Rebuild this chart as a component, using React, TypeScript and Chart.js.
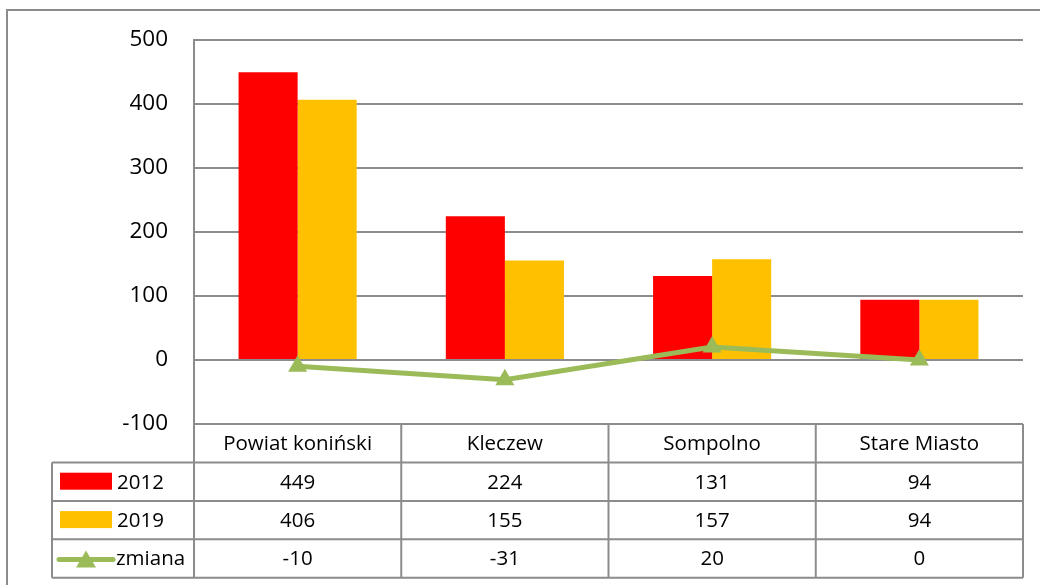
import React, { useEffect, useRef } from "react";
import { Chart, registerables } from "chart.js";

Chart.register(...registerables);

const CATEGORIES = ["Powiat koniński", "Kleczew", "Sompolno", "Stare Miasto"];
const VALUES_2012 = [449, 224, 131, 94];
const VALUES_2019 = [406, 155, 157, 94];
const VALUES_CHANGE = [-10, -31, 20, 0];
const SERIES_LABELS = ["2012", "2019", "zmiana"];

const RED = "#FF0000";
const YELLOW = "#FFC000";
const GREEN = "#9BBB59";
const GRID = "#8c8c8c";
const FONT = "'Open Sans', sans-serif";

const tablePlugin = {
  id: "dataTable",
  afterDraw(chart: any) {
    const { ctx, chartArea: ca } = chart;
    const n = CATEGORIES.length;
    const colW = (ca.right - ca.left) / n;
    const top = ca.bottom;
    const headerH = 38.5;
    const rowH = 38.4;
    const legendLeft = 52;
    const rowsTop = top + headerH;
    const bottom = rowsTop + rowH * 3;

    ctx.save();
    // outer border
    ctx.strokeStyle = GRID;
    ctx.lineWidth = 2;
    ctx.beginPath();
    ctx.moveTo(7, 585);
    ctx.lineTo(7, 10);
    ctx.lineTo(1040, 10);
    ctx.stroke();

    ctx.lineWidth = 2;
    ctx.strokeStyle = GRID;
    ctx.beginPath();
    ctx.moveTo(ca.left, top);
    ctx.lineTo(ca.right, top);
    for (let r = 0; r <= 3; r++) {
      const y = rowsTop + r * rowH;
      ctx.moveTo(legendLeft, y);
      ctx.lineTo(ca.right, y);
    }
    for (let c = 0; c <= n; c++) {
      const x = ca.left + c * colW;
      ctx.moveTo(x, top);
      ctx.lineTo(x, bottom);
    }
    ctx.moveTo(legendLeft, rowsTop);
    ctx.lineTo(legendLeft, bottom);
    ctx.stroke();

    ctx.fillStyle = "#000";
    ctx.font = `20.5px ${FONT}`;
    ctx.textAlign = "center";
    ctx.textBaseline = "middle";
    CATEGORIES.forEach((cat, i) => {
      ctx.fillText(cat, ca.left + (i + 0.5) * colW, top + headerH / 2 + 1);
    });
    const rows = [VALUES_2012, VALUES_2019, VALUES_CHANGE];
    rows.forEach((vals, r) => {
      const y = rowsTop + (r + 0.5) * rowH + 1;
      vals.forEach((v, i) => {
        ctx.fillText(String(v), ca.left + (i + 0.5) * colW, y);
      });
    });

    ctx.textAlign = "left";
    const keyL = 60;
    const keyR = 112;
    const y0 = rowsTop + 0.5 * rowH;
    const y1 = rowsTop + 1.5 * rowH;
    const y2 = rowsTop + 2.5 * rowH;
    ctx.fillStyle = RED;
    ctx.fillRect(keyL, y0 - 9, keyR - keyL, 17);
    ctx.fillStyle = YELLOW;
    ctx.fillRect(keyL, y1 - 9, keyR - keyL, 17);
    ctx.strokeStyle = GREEN;
    ctx.lineWidth = 5;
    ctx.lineCap = "round";
    ctx.beginPath();
    ctx.moveTo(keyL - 1, y2 + 1);
    ctx.lineTo(keyR + 1, y2 + 1);
    ctx.stroke();
    ctx.fillStyle = GREEN;
    const cx = (keyL + keyR) / 2;
    ctx.beginPath();
    ctx.moveTo(cx, y2 - 8);
    ctx.lineTo(cx + 10, y2 + 9);
    ctx.lineTo(cx - 10, y2 + 9);
    ctx.closePath();
    ctx.fill();

    ctx.fillStyle = "#000";
    ctx.fillText(SERIES_LABELS[0], 117, y0 + 1);
    ctx.fillText(SERIES_LABELS[1], 117, y1 + 1);
    ctx.fillText(SERIES_LABELS[2], 116, y2 + 1);
    ctx.restore();
  },
};

export default function App() {
  const ref = useRef<HTMLCanvasElement>(null);
  useEffect(() => {
    if (!ref.current) return;
    const chart = new Chart(ref.current, {
      type: "bar",
      data: {
        labels: CATEGORIES,
        datasets: [
          {
            type: "line",
            label: SERIES_LABELS[2],
            data: VALUES_CHANGE,
            borderColor: GREEN,
            backgroundColor: GREEN,
            borderWidth: 5,
            pointStyle: "triangle",
            pointRadius: 11,
            pointBackgroundColor: GREEN,
            pointBorderColor: GREEN,
            pointBorderWidth: 0,
            order: 0,
          } as any,
          {
            label: SERIES_LABELS[0],
            data: VALUES_2012,
            backgroundColor: RED,
            borderWidth: 0,
            order: 1,
          },
          {
            label: SERIES_LABELS[1],
            data: VALUES_2019,
            backgroundColor: YELLOW,
            borderWidth: 0,
            order: 1,
          },
        ],
      },
      options: {
        responsive: false,
        animation: false,
        devicePixelRatio: 1,
        layout: { padding: { left: 0, top: 39, right: 17, bottom: 161 } },
        datasets: { bar: { categoryPercentage: 0.57, barPercentage: 1 } } as any,
        plugins: { legend: { display: false }, tooltip: { enabled: false } },
        scales: {
          x: { display: false },
          y: {
            min: -100,
            max: 500,
            ticks: {
              stepSize: 100,
              padding: 26,
              color: "#000",
              font: { family: FONT, size: 22.5 },
            },
            grid: { color: GRID, lineWidth: 2, drawTicks: false },
            border: { display: true, color: GRID, width: 2 },
            afterFit: (scale: any) => {
              scale.width = 194;
            },
          },
        },
      },
      plugins: [tablePlugin],
    });
    return () => chart.destroy();
  }, []);
  return (
    <div style={{ position: "absolute", left: 0, top: 0, width: 1040, height: 585, background: "#fff" }}>
      <canvas ref={ref} width={1040} height={585} />
    </div>
  );
}
